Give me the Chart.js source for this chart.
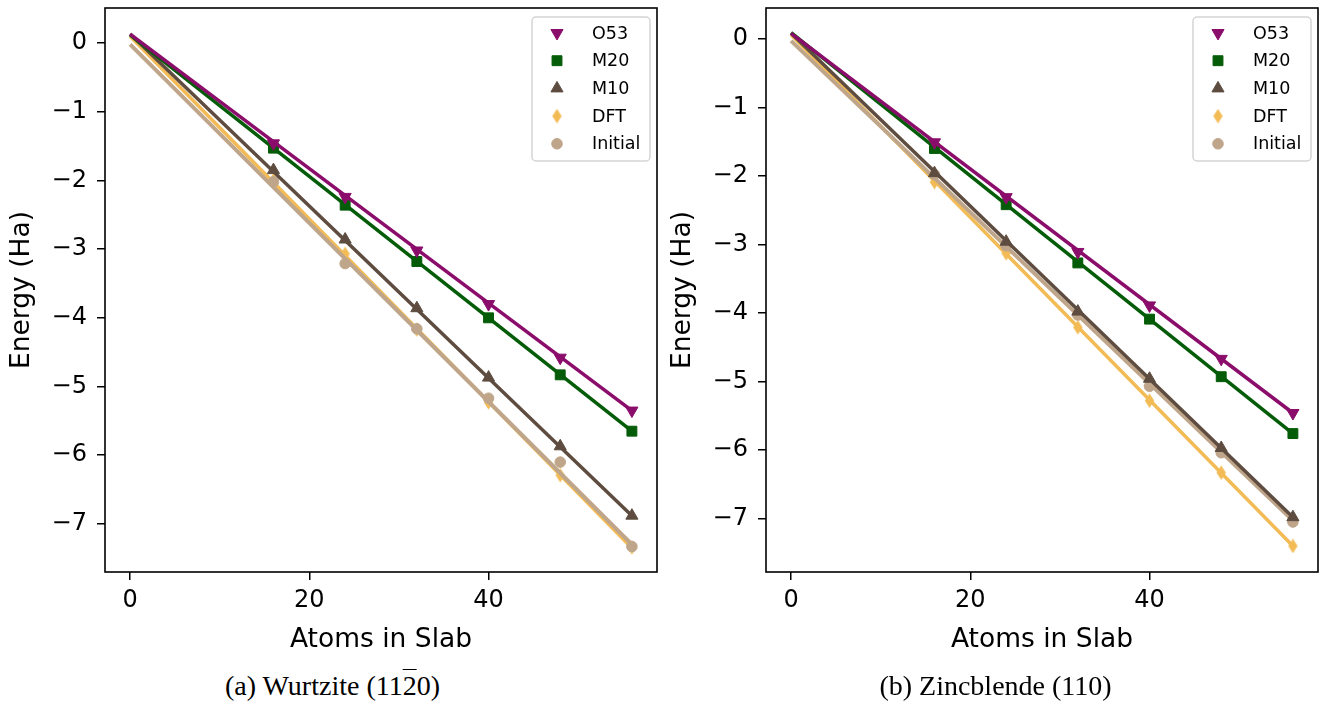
<!DOCTYPE html>
<html>
<head>
<meta charset="utf-8">
<script src="https://cdn.jsdelivr.net/npm/chart.js@4/dist/chart.umd.min.js"></script>
<style>
    body { margin: 0; width: 1336px; height: 704px; background: #fff; position: relative; overflow: hidden; }
    .panel { position: absolute; top: 0; width: 665px; height: 665px; }
    .caption { position: absolute; top: 670px; width: 665px; text-align: center; font-family: 'Liberation Serif', serif; font-size: 28px; color: #000; }
    .bar { text-decoration: overline; text-decoration-thickness: 1px; }
</style>
</head>
<body>
<div class="panel" style="left:0"><canvas id="wurtziteChart" width="665" height="665"></canvas></div>
<div class="panel" style="left:661px"><canvas id="zincblendeChart" width="665" height="665"></canvas></div>
<div class="caption" style="left:0">(a) Wurtzite (1<span>1</span><span class="bar">2</span>0)</div>
<div class="caption" style="left:663px">(b) Zincblende (110)</div>
<script>
// === ДАННЫЕ ===
const atoms = [16, 24, 32, 40, 48, 56];
const fitX = [0, 56];
const xTicks = [0, 20, 40];
const yTicks = [0, -1, -2, -3, -4, -5, -6, -7];
const seriesNames = ['O53', 'M20', 'M10', 'DFT', 'Initial'];

// (a) Wurtzite
const wzO53 = [-1.46, -2.24, -3.02, -3.80, -4.58, -5.35];
const wzM20 = [-1.53, -2.36, -3.18, -4.00, -4.83, -5.65];
const wzM10 = [-1.85, -2.86, -3.86, -4.87, -5.87, -6.88];
const wzDFT = [-2.00, -3.07, -4.17, -5.23, -6.29, -7.34];
const wzInit = [-2.02, -3.21, -4.16, -5.17, -6.10, -7.33];
// концы линий аппроксимации (x = 0 и x = 56)
const wzFitO53 = [0.13, -5.35];
const wzFitM20 = [0.12, -5.65];
const wzFitM10 = [0.13, -6.88];
const wzFitDFT = [0.10, -7.35];
const wzFitInit = [-0.02, -7.30];

// (b) Zincblende
const zbO53 = [-1.51, -2.31, -3.11, -3.89, -4.67, -5.46];
const zbM20 = [-1.60, -2.42, -3.27, -4.09, -4.93, -5.76];
const zbM10 = [-1.96, -2.96, -3.98, -4.96, -5.97, -6.98];
const zbDFT = [-2.09, -3.13, -4.21, -5.28, -6.33, -7.40];
const zbInit = [-1.98, -3.02, -4.03, -5.07, -6.04, -7.05];
const zbFitO53 = [0.08, -5.46];
const zbFitM20 = [0.09, -5.76];
const zbFitM10 = [0.08, -6.98];
const zbFitDFT = [0.06, -7.40];
const zbFitInit = [-0.03, -7.03];

const colors = { O53: '#8b0d6b', M20: '#045c08', M10: '#5d4c3f', DFT: '#f2bb55', Initial: '#bfa68b' };

// тонкий ромб (как 'd' в matplotlib)
function thinDiamond(color) {
    const c = document.createElement('canvas');
    c.width = 11; c.height = 15;
    const g = c.getContext('2d');
    g.fillStyle = color;
    g.beginPath();
    g.moveTo(5.5, 0.3); g.lineTo(10.2, 7.5); g.lineTo(5.5, 14.7); g.lineTo(0.8, 7.5);
    g.closePath();
    g.fill();
    return c;
}

const markerStyle = {
    O53: { pointStyle: 'triangle', pointRotation: 180, pointRadius: 7 },
    M20: { pointStyle: 'rect', pointRotation: 0, pointRadius: 7 },
    M10: { pointStyle: 'triangle', pointRotation: 0, pointRadius: 7 },
    DFT: { pointStyle: thinDiamond(colors.DFT), pointRotation: 0, pointRadius: 7 },
    Initial: { pointStyle: 'circle', pointRotation: 0, pointRadius: 5.3 }
};
// чем меньше, тем выше слой
const layer = { O53: 0, M20: 1, M10: 2, Initial: 3, DFT: 4 };

function buildDatasets(points, fits) {
    const sets = [];
    seriesNames.forEach((name, i) => {
        const col = colors[name];
        sets.push({
            label: '',
            data: fitX.map((x, k) => ({ x: x, y: fits[i][k] })),
            borderColor: col,
            borderWidth: name === 'Initial' ? 4 : 3.5,
            pointRadius: 0,
            fill: false,
            order: layer[name] * 2 + 1
        });
        sets.push({
            label: name,
            inLegend: true,
            legendIndex: i,
            data: atoms.map((x, k) => ({ x: x, y: points[i][k] })),
            showLine: false,
            backgroundColor: col,
            borderColor: col,
            borderWidth: 1,
            pointStyle: markerStyle[name].pointStyle,
            rotation: markerStyle[name].pointRotation,
            pointRotation: markerStyle[name].pointRotation,
            pointRadius: markerStyle[name].pointRadius,
            pointHoverRadius: markerStyle[name].pointRadius,
            order: layer[name] * 2
        });
    });
    return sets;
}

// рамка вокруг области графика
const framePlugin = {
    id: 'frame',
    afterDatasetsDraw(chart) {
        const { ctx, chartArea: a } = chart;
        ctx.save();
        ctx.strokeStyle = '#000';
        ctx.lineWidth = 1.6;
        ctx.strokeRect(a.left, a.top, a.right - a.left, a.bottom - a.top);
        ctx.restore();
    }
};

// легенда внутри графика, правый верхний угол
const insideLegend = {
    id: 'insideLegend',
    afterDraw(chart) {
        const { ctx, chartArea: a } = chart;
        const items = chart.data.datasets.filter(d => d.inLegend).sort((p, q) => p.legendIndex - q.legendIndex);
        const boxW = 118, boxH = 144, rowH = 27.7;
        const x0 = a.right - 7 - boxW, y0 = a.top + 9;
        ctx.save();
        ctx.beginPath();
        ctx.roundRect(x0, y0, boxW, boxH, 4);
        ctx.fillStyle = 'rgba(255,255,255,0.8)';
        ctx.fill();
        ctx.strokeStyle = '#d5d5d5';
        ctx.lineWidth = 1.5;
        ctx.stroke();
        items.forEach((d, i) => {
            const y = y0 + 16 + i * rowH;
            ctx.fillStyle = d.backgroundColor;
            ctx.strokeStyle = d.borderColor;
            ctx.lineWidth = 1;
            Chart.helpers.drawPoint(ctx, { pointStyle: d.pointStyle, rotation: d.pointRotation, radius: d.pointRadius, borderWidth: 1 }, x0 + 25, y);
            ctx.fillStyle = '#000';
            ctx.font = '17.5px "DejaVu Sans"';
            ctx.textBaseline = 'middle';
            ctx.textAlign = 'left';
            ctx.fillText(d.label, x0 + 60, y + 1);
        });
        ctx.restore();
    }
};

function drawEnergyChart(canvasId, points, fits, yMin, yMax) {
    const ctx = document.getElementById(canvasId);
    if (!ctx) return;
    const minus = v => String(v).replace('-', '\u2212');
    return new Chart(ctx, {
        type: 'line',
        data: { datasets: buildDatasets(points, fits) },
        plugins: [framePlugin, insideLegend],
        options: {
            responsive: false,
            animation: false,
            layout: { padding: { top: 5, right: 7, left: 0, bottom: 0 } },
            plugins: { legend: { display: false }, tooltip: { enabled: false } },
            scales: {
                x: {
                    type: 'linear',
                    min: -2.8,
                    max: 58.8,
                    afterBuildTicks: s => { s.ticks = xTicks.map(v => ({ value: v })); },
                    afterFit: s => { s.height = 93; s.paddingLeft = 0; s.paddingRight = 0; },
                    border: { display: false },
                    grid: { drawOnChartArea: false, drawTicks: true, tickLength: 8, color: '#000', lineWidth: 1.5 },
                    ticks: { color: '#000', padding: 6, maxRotation: 0, font: { family: 'DejaVu Sans', size: 24 }, callback: minus },
                    title: { display: true, text: 'Atoms in Slab', color: '#000', font: { family: 'DejaVu Sans', size: 26.5 }, padding: { top: 0, bottom: 9 } }
                },
                y: {
                    type: 'linear',
                    min: yMin,
                    max: yMax,
                    afterBuildTicks: s => { s.ticks = yTicks.map(v => ({ value: v })); },
                    afterFit: s => { s.width = 105; s.paddingTop = 0; s.paddingBottom = 0; },
                    border: { display: false },
                    grid: { drawOnChartArea: false, drawTicks: true, tickLength: 8, color: '#000', lineWidth: 1.5 },
                    ticks: { color: '#000', padding: 10, font: { family: 'DejaVu Sans', size: 24 }, callback: minus },
                    title: { display: true, text: 'Energy (Ha)', color: '#000', font: { family: 'DejaVu Sans', size: 26.5 }, padding: { top: 6, bottom: 0 } }
                }
            }
        }
    });
}

drawEnergyChart('wurtziteChart', [wzO53, wzM20, wzM10, wzDFT, wzInit], [wzFitO53, wzFitM20, wzFitM10, wzFitDFT, wzFitInit], -7.70, 0.51);
drawEnergyChart('zincblendeChart', [zbO53, zbM20, zbM10, zbDFT, zbInit], [zbFitO53, zbFitM20, zbFitM10, zbFitDFT, zbFitInit], -7.78, 0.45);
</script>
</body>
</html>
